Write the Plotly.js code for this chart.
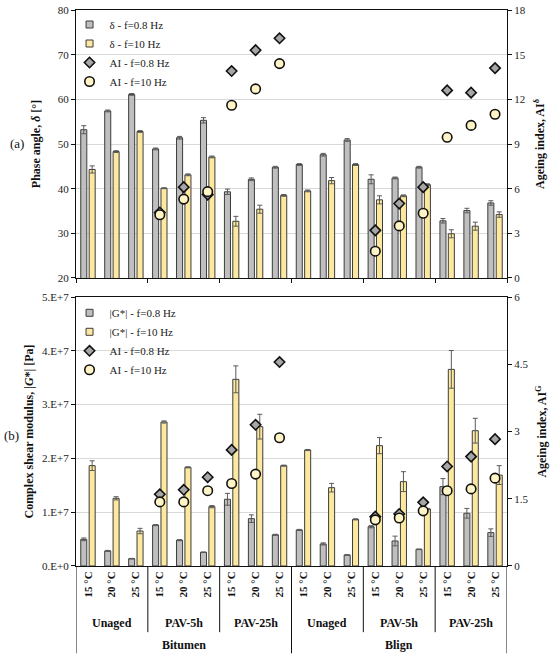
<!DOCTYPE html>
<html>
<head>
<meta charset="utf-8">
<script src="https://cdn.plot.ly/plotly-3.0.1.min.js"></script>
<style>html,body{margin:0;padding:0;background:#fff;}#chart{width:550px;height:655px;}</style>
</head>
<body>
<div id="chart"></div>
<script>
// ---- data ----
const temps = ["15 °C","20 °C","25 °C","15 °C","20 °C","25 °C","15 °C","20 °C","25 °C",
               "15 °C","20 °C","25 °C","15 °C","20 °C","25 °C","15 °C","20 °C","25 °C"];
const ageing = ["Unaged","PAV-5h","PAV-25h","Unaged","PAV-5h","PAV-25h"];
const materials = ["Bitumen","Blign"];

const delta08    = [53.2,57.4,61.1,48.9,51.4,55.3,39.3,42.1,44.8,45.4,47.6,50.9,42.1,42.4,44.8,32.8,35.1,36.8];
const delta08Err = [0.9,0.2,0.2,0.2,0.3,0.6,0.6,0.3,0.2,0.2,0.3,0.3,1.0,0.2,0.2,0.5,0.5,0.5];
const delta10    = [44.3,48.3,52.8,40.1,43.1,47.1,32.7,35.4,38.5,39.5,41.8,45.4,37.5,38.4,40.9,29.9,31.6,34.2];
const delta10Err = [0.8,0.2,0.2,0.1,0.2,0.2,1.1,0.9,0.2,0.2,0.7,0.2,0.9,0.2,0.2,0.9,0.9,0.6];
const aiDelta08  = [null,null,null,4.4,6.1,5.6,13.9,15.3,16.1,null,null,null,3.2,5.0,6.1,12.6,12.45,14.1];
const aiDelta10  = [null,null,null,4.25,5.3,5.8,11.6,12.7,14.4,null,null,null,1.8,3.5,4.35,9.45,10.25,11.0];

const g08    = [4.96e6,2.8e6,1.36e6,7.6e6,4.8e6,2.55e6,1.24e7,8.8e6,5.8e6,6.7e6,4.1e6,2.05e6,7.3e6,4.65e6,3.1e6,1.475e7,9.8e6,6.2e6];
const g08Err = [2.5e5,1e5,5e4,1e5,1e5,5e4,1.1e6,7e5,1e5,1e5,2e5,5e4,2e5,9e5,5e4,1.5e6,9e5,7e5];
const g10    = [1.865e7,1.258e7,6.5e6,2.677e7,1.834e7,1.103e7,3.47e7,2.59e7,1.865e7,2.156e7,1.456e7,8.67e6,2.237e7,1.568e7,1.06e7,3.655e7,2.515e7,1.69e7];
const g10Err = [9e5,3e5,5e5,2e5,1e5,2e5,2.5e6,2.3e6,1e5,1e5,8e5,1e5,1.5e6,1.85e6,1e5,3.5e6,2.3e6,1.75e6];
const aiG08  = [null,null,null,1.6,1.7,1.98,2.59,3.15,4.55,null,null,null,1.1,1.16,1.42,2.22,2.44,2.83];
const aiG10  = [null,null,null,1.43,1.43,1.68,1.84,2.05,2.86,null,null,null,1.03,1.07,1.23,1.68,1.72,1.96];

const leftTicksTop = [20,30,40,50,60,70,80];
const rightTicksTop = [0,3,6,9,12,15,18];
const leftTicksBot = [0,1e7,2e7,3e7,4e7,5e7];
const leftTickTextBot = ["0.E+0","1.E+7","2.E+7","3.E+7","4.E+7","5.E+7"];
const rightTicksBot = [0,1.5,3,4.5,6];

// ---- styling ----
const FONT = "Liberation Serif, Times New Roman, serif";
const GRAY = "#bfbfbf", YELLOW = "#fce89e", EDGE = "#3c3c3c";
const DIAM = "#a6a6a6", CIRC = "#fff4c6";
const xs = temps.map((_, i) => i);

function barTrace(y, err, color, xa, ya) {
  return {type:"bar", x: xs, y: y, xaxis: xa, yaxis: ya, showlegend:false,
    marker:{color: color, line:{color: EDGE, width: 1}},
    error_y:{type:"data", array: err, visible:true, color:"#5a5a5a", thickness:1, width:2.5}};
}
function keyTrace(color, name, xa, ya, legend, rank) {
  return {type:"scatter", mode:"markers", x:[null], y:[null], name: name, xaxis: xa, yaxis: ya,
    legend: legend, legendrank: rank,
    marker:{symbol:"square", size:7, color: color, line:{color: EDGE, width:1}}};
}
function markTrace(y, sym, color, size, name, xa, ya, legend, rank) {
  return {type:"scatter", mode:"markers", x: xs, y: y, name: name, xaxis: xa, yaxis: ya, legend: legend,
    legendrank: rank,
    marker:{symbol: sym, size: size, color: color, line:{color:"#111", width:1.6}}};
}

const data = [
  barTrace(delta08, delta08Err, GRAY, "x2", "y"),
  barTrace(delta10, delta10Err, YELLOW, "x2", "y"),
  markTrace(aiDelta08, "diamond", DIAM, 8, "AI - f=0.8 Hz", "x2", "y2", "legend", 3),
  markTrace(aiDelta10, "circle", CIRC, 9.5, "AI - f=10 Hz", "x2", "y2", "legend", 4),
  keyTrace(GRAY, "δ - f=0.8 Hz", "x2", "y", "legend", 1),
  keyTrace(YELLOW, "δ - f=10 Hz", "x2", "y", "legend", 2),
  barTrace(g08, g08Err, GRAY, "x", "y3"),
  barTrace(g10, g10Err, YELLOW, "x", "y3"),
  markTrace(aiG08, "diamond", DIAM, 8, "AI - f=0.8 Hz", "x", "y4", "legend2", 3),
  markTrace(aiG10, "circle", CIRC, 9.5, "AI - f=10 Hz", "x", "y4", "legend2", 4),
  keyTrace(GRAY, "|G*| - f=0.8 Hz", "x", "y3", "legend2", 1),
  keyTrace(YELLOW, "|G*| - f=10 Hz", "x", "y3", "legend2", 2)
];

const tickFont = {family: FONT, size: 11, color:"#222"};
const titleFont = {family: FONT, size: 12, color:"#111", weight: "bold"};
const boundaries = [-0.5,2.5,5.5,8.5,11.5,14.5,17.5];
const botTop = 0.4838, topBot = 0.518;

const shapes = [];
boundaries.forEach((b, i) => {
  const major = (i === 0 || i === 3 || i === 6);
  shapes.push({type:"line", xref:"x", yref:"paper", x0:b, x1:b, y0:0, y1: major ? -0.157 : -0.119,
    line:{color:"#111", width:1}});
});
// white patch behind the lower legend (hides the gridline there, as in the reference)
shapes.push({type:"rect", xref:"paper", yref:"y3", x0:0.026, x1:0.246, y0:3.9e7, y1:4.1e7,
  fillcolor:"#fff", line:{width:0}, layer:"between"});

const annotations = [];
ageing.forEach((g, i) => {
  annotations.push({xref:"x", yref:"paper", x: 1 + 3*i, y: -0.1025, text:"<b>"+g+"</b>", showarrow:false,
    font:{family:FONT, size:12, color:"#111"}, xanchor:"center", yanchor:"middle"});
});
materials.forEach((m, i) => {
  annotations.push({xref:"x", yref:"paper", x: 4 + 9*i, y: -0.142, text:"<b>"+m+"</b>", showarrow:false,
    font:{family:FONT, size:12, color:"#111"}, xanchor:"center", yanchor:"middle"});
});
annotations.push({xref:"paper", yref:"paper", x:-0.137, y:0.759, text:"(a)", showarrow:false,
  font:{family:FONT, size:13, color:"#111"}, xanchor:"center", yanchor:"middle"});
annotations.push({xref:"paper", yref:"paper", x:-0.150, y:0.2356, text:"(b)", showarrow:false,
  font:{family:FONT, size:13, color:"#111"}, xanchor:"center", yanchor:"middle"});

const layout = {
  width: 550, height: 655,
  margin: {l:76, r:43, t:10, b:89},
  paper_bgcolor:"#fff", plot_bgcolor:"#fff",
  font: {family: FONT, color:"#111"},
  barmode:"group", bargap:0.3, bargroupgap:0.28,
  showlegend: true,
  xaxis: {domain:[0,1], anchor:"y3", range:[-0.5,17.5], tickvals: xs, ticktext: temps.map(t => "<b>"+t+"</b>"),
    tickangle:-90, ticks:"", tickfont:{family:FONT, size:11, color:"#111"}, showline:true, linecolor:"#111",
    linewidth:1, mirror:true, showgrid:false, zeroline:false},
  xaxis2: {domain:[0,1], anchor:"y", range:[-0.5,17.5], tickvals: boundaries, showticklabels:false,
    ticks:"outside", ticklen:4, tickcolor:"#111", showline:true, linecolor:"#111", linewidth:1, mirror:true,
    showgrid:false, zeroline:false},
  yaxis: {domain:[topBot,1], anchor:"x2", range:[20,80], tickvals: leftTicksTop, ticks:"outside", ticklen:4,
    tickcolor:"#111", tickfont: tickFont, showline:true, linecolor:"#111", linewidth:1, showgrid:true,
    gridcolor:"#d9d9d9", gridwidth:1, zeroline:false,
    title:{text:"Phase angle, <i>δ</i> [°]", font: titleFont, standoff: 14}},
  yaxis2: {overlaying:"y", anchor:"x2", side:"right", range:[0,18], tickvals: rightTicksTop, ticks:"outside",
    ticklen:4, tickcolor:"#111", tickfont: tickFont, showline:true, linecolor:"#111", linewidth:1,
    showgrid:false, zeroline:false,
    title:{text:"Ageing index, AI<sup>δ</sup>", font: titleFont, standoff: 10}},
  yaxis3: {domain:[0,botTop], anchor:"x", range:[0,5e7], tickvals: leftTicksBot, ticktext: leftTickTextBot,
    ticks:"outside", ticklen:4, tickcolor:"#111", tickfont: tickFont, showline:true, linecolor:"#111",
    linewidth:1, showgrid:true, gridcolor:"#d9d9d9", gridwidth:1, zeroline:false,
    title:{text:"Complex shear modulus, |<i>G</i>*| [Pa]", font: titleFont, standoff: 5}},
  yaxis4: {overlaying:"y3", anchor:"x", side:"right", range:[0,6], tickvals: rightTicksBot, ticks:"outside",
    ticklen:4, tickcolor:"#111", tickfont: tickFont, showline:true, linecolor:"#111", linewidth:1,
    showgrid:false, zeroline:false,
    title:{text:"Ageing index, AI<sup>G</sup>", font: titleFont, standoff: 10}},
  legend: {x:-0.015, y:1.0, xanchor:"left", yanchor:"top", bgcolor:"rgba(0,0,0,0)", borderwidth:0,
    font:{family:FONT, size:11, color:"#222"}, traceorder:"normal", tracegroupgap:0, itemwidth:30},
  legend2: {x:-0.015, y:0.4815, xanchor:"left", yanchor:"top", bgcolor:"rgba(0,0,0,0)", borderwidth:0,
    font:{family:FONT, size:11, color:"#222"}, traceorder:"normal", tracegroupgap:0, itemwidth:30},
  shapes: shapes,
  annotations: annotations
};

Plotly.newPlot("chart", data, layout, {displayModeBar:false, staticPlot:true});
</script>
</body>
</html>
